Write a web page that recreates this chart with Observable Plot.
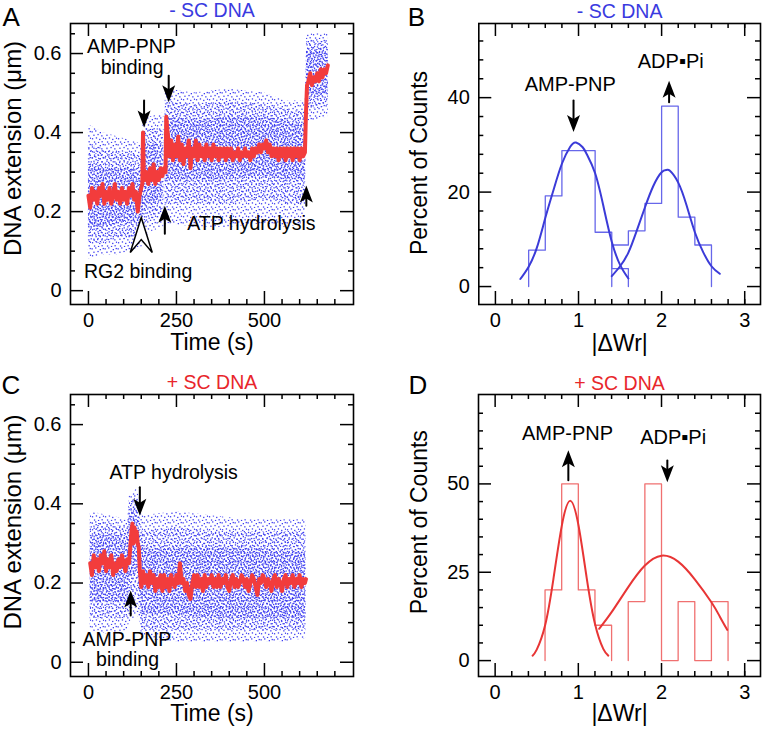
<!DOCTYPE html>
<html><head><meta charset="utf-8">
<script src="https://cdn.jsdelivr.net/npm/d3@7"></script>
<script src="https://cdn.jsdelivr.net/npm/@observablehq/plot@0.6"></script>
<style>
body{margin:0;background:#fff;}
#fig{position:relative;width:762px;height:730px;overflow:hidden;font-family:"Liberation Sans",Arial,sans-serif;}
</style></head><body>
<svg width="0" height="0" style="position:absolute">
<defs>
<pattern id="cloud1" width="13" height="13" patternUnits="userSpaceOnUse">
<g fill="#3c3cf0">
<rect x="0.5" y="1.2" width="1.3" height="1.3"/><rect x="4.1" y="0.3" width="1.3" height="1.3"/>
<rect x="8.7" y="2.0" width="1.3" height="1.3"/><rect x="11.6" y="0.9" width="1.3" height="1.3"/>
<rect x="2.3" y="4.6" width="1.3" height="1.3"/><rect x="6.4" y="3.9" width="1.3" height="1.3"/>
<rect x="10.2" y="5.2" width="1.3" height="1.3"/><rect x="0.9" y="8.1" width="1.3" height="1.3"/>
<rect x="4.8" y="7.3" width="1.3" height="1.3"/><rect x="8.1" y="8.8" width="1.3" height="1.3"/>
<rect x="11.9" y="7.6" width="1.3" height="1.3"/><rect x="2.9" y="11.4" width="1.3" height="1.3"/>
<rect x="6.9" y="11.9" width="1.3" height="1.3"/><rect x="10.5" y="11.1" width="1.3" height="1.3"/>
</g></pattern>
<pattern id="cloud2" width="11" height="11" patternUnits="userSpaceOnUse">
<g fill="#3c3cf0">
<rect x="1.7" y="0.6" width="1.3" height="1.3"/><rect x="5.9" y="1.8" width="1.3" height="1.3"/>
<rect x="9.4" y="0.2" width="1.3" height="1.3"/><rect x="0.2" y="4.1" width="1.3" height="1.3"/>
<rect x="3.8" y="3.3" width="1.3" height="1.3"/><rect x="7.5" y="5.0" width="1.3" height="1.3"/>
<rect x="10.1" y="3.7" width="1.3" height="1.3"/><rect x="2.6" y="7.2" width="1.3" height="1.3"/>
<rect x="5.5" y="8.6" width="1.3" height="1.3"/><rect x="9.0" y="7.9" width="1.3" height="1.3"/>
<rect x="0.8" y="10.0" width="1.3" height="1.3"/><rect x="7.2" y="10.3" width="1.3" height="1.3"/>
</g></pattern>
<pattern id="cloud3" width="9" height="9" patternUnits="userSpaceOnUse">
<g fill="#3c3cf0">
<rect x="0.4" y="0.9" width="1.3" height="1.3"/><rect x="3.5" y="0.1" width="1.3" height="1.3"/>
<rect x="6.8" y="1.4" width="1.3" height="1.3"/><rect x="1.9" y="3.2" width="1.3" height="1.3"/>
<rect x="5.2" y="3.8" width="1.3" height="1.3"/><rect x="8.1" y="4.6" width="1.3" height="1.3"/>
<rect x="0.7" y="6.3" width="1.3" height="1.3"/><rect x="3.9" y="6.9" width="1.3" height="1.3"/>
<rect x="6.6" y="7.4" width="1.3" height="1.3"/><rect x="2.4" y="8.6" width="1.3" height="1.3"/>
</g></pattern>
</defs></svg>
<div id="fig"></div>
<script>
// ---------- Panel A: - SC DNA time trace (red = smoothed extension) ----------
const redTimeA = [0,5,10,15,20,25,30,35,40,45,50,55,60,65,70,75,80,85,90,95,100,105,110,115,120,125,130,135,140,145,150,153,155,157,160,165,170,175,180,185,190,195,200,205,210,215,219,221,224,227,230,235,240,245,250,255,260,265,270,275,280,285,290,295,300,305,310,315,320,325,330,335,340,345,350,355,360,365,370,375,380,385,390,395,400,405,410,415,420,425,430,435,440,445,450,455,460,465,470,475,480,485,490,495,500,505,510,515,520,525,530,535,540,545,550,555,560,565,570,575,580,585,590,595,600,605,610,615,618,621,625,630,635,640,645,650,655,660,665,670,675,680];
const redExtA  = [0.24,0.21,0.26,0.23,0.25,0.22,0.26,0.24,0.27,0.22,0.25,0.23,0.26,0.22,0.24,0.27,0.23,0.25,0.22,0.26,0.23,0.25,0.22,0.26,0.24,0.27,0.23,0.25,0.20,0.24,0.26,0.27,0.40,0.31,0.28,0.30,0.27,0.31,0.28,0.32,0.27,0.30,0.28,0.31,0.29,0.31,0.30,0.44,0.41,0.38,0.34,0.38,0.33,0.37,0.34,0.39,0.33,0.37,0.32,0.36,0.34,0.38,0.31,0.36,0.34,0.38,0.33,0.37,0.34,0.36,0.33,0.37,0.34,0.36,0.33,0.37,0.34,0.36,0.33,0.36,0.34,0.36,0.33,0.36,0.34,0.36,0.33,0.35,0.34,0.36,0.33,0.35,0.34,0.36,0.34,0.35,0.33,0.36,0.34,0.36,0.35,0.37,0.35,0.37,0.36,0.38,0.35,0.37,0.34,0.36,0.34,0.36,0.33,0.36,0.34,0.36,0.33,0.36,0.34,0.36,0.33,0.36,0.34,0.36,0.33,0.36,0.34,0.35,0.45,0.52,0.53,0.55,0.52,0.54,0.53,0.55,0.53,0.56,0.54,0.56,0.55,0.57];
// blue raw-data cloud: sparse outer, medium, dense core bands
const cloudTimeA = [0,40,80,120,152,156,180,214,218,224,300,400,500,560,616,620,650,682];
const cloudSegA  = [1,1,1,1,1,1,1,1,2,2,2,2,2,2,2,2,2,2];
const outerLoA = [0.08,0.09,0.09,0.10,0.11,0.13,0.15,0.16,0.16,0.17,0.16,0.16,0.17,0.16,0.17,0.43,0.43,0.44];
const outerHiA = [0.42,0.40,0.39,0.38,0.37,0.44,0.44,0.45,0.50,0.51,0.50,0.51,0.50,0.48,0.48,0.65,0.65,0.65];
const midLoA   = [0.12,0.12,0.13,0.13,0.14,0.17,0.18,0.19,0.21,0.22,0.22,0.22,0.23,0.22,0.22,0.46,0.46,0.47];
const midHiA   = [0.37,0.36,0.35,0.35,0.34,0.41,0.41,0.41,0.47,0.48,0.47,0.48,0.47,0.46,0.45,0.63,0.63,0.63];
const coreLoA  = [0.16,0.16,0.17,0.17,0.17,0.21,0.22,0.23,0.27,0.28,0.28,0.28,0.29,0.28,0.28,0.49,0.49,0.50];
const coreHiA  = [0.32,0.31,0.31,0.31,0.30,0.37,0.37,0.37,0.43,0.44,0.43,0.44,0.44,0.43,0.42,0.61,0.61,0.61];
const arrowsA = [{x:158, tail:0.481, tip:0.413}, {x:228, tail:0.544, tip:0.477},
                 {x:217, tail:0.144, tip:0.215}, {x:619, tail:0.215, tip:0.266}];
const openArrowA = [{x:150, tip:0.185}];
const notesA = [{x:122, y:0.602, text:"AMP-PNP"}, {x:124, y:0.549, text:"binding"},
                {x:463, y:0.154, text:"ATP hydrolysis"}, {x:141, y:0.033, text:"RG2 binding"}];

// ---------- Panel C: + SC DNA time trace ----------
const redTimeC = [5,10,15,20,25,30,35,40,45,50,55,60,65,70,75,80,85,90,95,100,105,110,115,118,122,125,128,131,134,137,140,143,146,150,155,160,165,170,175,180,185,190,195,200,205,210,215,220,225,230,235,240,245,250,255,260,265,270,275,280,285,290,295,300,305,310,315,320,325,330,335,340,345,350,355,360,365,370,375,380,385,390,395,400,405,410,415,420,425,430,435,440,445,450,455,460,465,470,475,480,485,490,495,500,505,510,515,520,525,530,535,540,545,550,555,560,565,570,575,580,585,590,595,600,605,610,615,618];
const redExtC  = [0.25,0.22,0.27,0.24,0.26,0.23,0.27,0.25,0.28,0.23,0.26,0.24,0.27,0.22,0.25,0.23,0.26,0.24,0.27,0.25,0.23,0.26,0.25,0.28,0.33,0.35,0.30,0.34,0.31,0.33,0.30,0.29,0.23,0.19,0.23,0.20,0.22,0.19,0.23,0.20,0.22,0.18,0.21,0.19,0.22,0.18,0.22,0.19,0.21,0.18,0.22,0.20,0.19,0.22,0.20,0.25,0.20,0.21,0.18,0.20,0.17,0.16,0.20,0.22,0.19,0.22,0.19,0.21,0.18,0.22,0.19,0.21,0.20,0.22,0.19,0.21,0.19,0.22,0.19,0.21,0.20,0.22,0.19,0.18,0.21,0.22,0.19,0.21,0.19,0.20,0.22,0.21,0.19,0.21,0.18,0.20,0.22,0.21,0.19,0.17,0.21,0.20,0.22,0.21,0.19,0.21,0.20,0.18,0.21,0.22,0.19,0.21,0.20,0.18,0.21,0.22,0.19,0.21,0.20,0.22,0.19,0.21,0.20,0.22,0.19,0.21,0.20,0.21];
const cloudTimeC = [5,60,112,116,140,146,152,250,350,450,550,618];
const outerLoC = [0.08,0.07,0.08,0.10,0.12,0.10,0.06,0.05,0.05,0.05,0.05,0.06];
const outerHiC = [0.38,0.37,0.36,0.42,0.44,0.40,0.37,0.38,0.37,0.36,0.36,0.36];
const midLoC   = [0.11,0.11,0.11,0.15,0.17,0.13,0.08,0.08,0.08,0.08,0.08,0.08];
const midHiC   = [0.35,0.35,0.34,0.40,0.42,0.37,0.33,0.34,0.33,0.33,0.33,0.33];
const coreLoC  = [0.15,0.15,0.15,0.21,0.23,0.17,0.12,0.12,0.11,0.11,0.11,0.11];
const coreHiC  = [0.32,0.32,0.32,0.38,0.39,0.32,0.29,0.29,0.29,0.29,0.28,0.28];
const arrowsC = [{x:146, tail:0.442, tip:0.370}, {x:120, tail:0.118, tip:0.181}];
const notesC = [{x:242, y:0.463, text:"ATP hydrolysis"}, {x:109, y:0.042, text:"AMP-PNP"}, {x:111, y:-0.010, text:"binding"}];

// ---------- Panel B: - SC DNA histogram ----------
const binStartB1 = [0.4,0.6,0.8,1.0,1.2,1.4];
const pctB1      = [7.7,19.2,28.8,28.8,11.5,3.8];
const binStartB2 = [1.4,1.6,1.8,2.0,2.2,2.4];
const pctB2      = [8.8,11.8,17.6,38.2,14.7,8.8];
const fitXB1 = [0.3,0.4,0.5,0.6,0.7,0.8,0.9,0.97,1.05,1.1,1.2,1.3,1.4,1.5,1.6];
const fitYB1 = [1.6,4.2,8.3,14.5,20.5,26.0,29.6,30.5,29.5,28.0,24.0,17.0,9.5,4.6,1.7];
const fitXB2 = [1.4,1.5,1.6,1.7,1.8,1.9,2.0,2.06,2.1,2.2,2.3,2.4,2.5,2.6,2.7];
const fitYB2 = [2.2,4.3,7.2,11.8,16.8,21.3,24.2,24.7,24.5,22.0,17.2,11.5,7.3,4.3,2.7];
const arrowsB = [{x:0.94, tail:39.4, tip:32.7}, {x:2.09, tail:39.0, tip:43.6}];
const notesB = [{x:0.90, y:41.5, text:"AMP-PNP"}, {x:2.11, y:46.3, text:"ADP\u25AAPi"}];

// ---------- Panel D: + SC DNA histogram ----------
const binStartD1 = [0.6,0.8,1.0,1.2];
const pctD1      = [20,50,20,10];
const binStartD2 = [1.6,1.8,2.0,2.2,2.4,2.6];
const pctD2      = [16.7,50,0,16.7,0,16.7];
const fitXD1 = [0.45,0.5,0.6,0.7,0.8,0.9,1.0,1.1,1.2,1.3,1.36];
const fitYD1 = [1.4,3.1,9.9,23,38,45.2,38.5,23.5,10.4,3.3,1.4];
const fitXD2 = [1.25,1.4,1.6,1.8,2.0,2.2,2.4,2.6,2.7,2.79];
const fitYD2 = [9.0,13.7,20.8,26.9,29.7,28.0,23.0,16.5,12.5,8.7];
const arrowsD = [{x:0.88, tail:51.0, tip:59.5}, {x:2.07, tail:56.6, tip:50.5}];
const notesD = [{x:0.87, y:62.3, text:"AMP-PNP"}, {x:2.14, y:61.4, text:"ADP\u25AAPi"}];

// ---------- ticks ----------
const timeTicks = [0,250,500];
const timeMinor = [50,100,150,200,300,350,400,450,550,600,650,700];
const extTicks = [0,0.2,0.4,0.6];
const extLabels = ["0","0.2","0.4","0.6"];
const extMinor = [0.05,0.1,0.15,0.25,0.3,0.35,0.45,0.5,0.55,0.65];
const wrTicks = [0,1,2,3];
const wrMinor = [0.2,0.4,0.6,0.8,1.2,1.4,1.6,1.8,2.2,2.4,2.6,2.8,3.0];
const pctTicksB = [0,20,40];
const pctMinorB = [4,8,12,16,24,28,32,36,44,48,52];
const pctTicksD = [0,25,50];
const pctMinorD = [5,10,15,20,30,35,40,45,55,60,65,70];

const BLUE = "#3a3ae0", RED = "#e8262b";
const FONT = "Liberation Sans, Arial, Helvetica, sans-serif";

const headSym = {draw(c){ c.moveTo(0,0); c.lineTo(6.5,17); c.lineTo(0,13); c.lineTo(-6.5,17); c.closePath(); }};
const openSym = {draw(c){ c.moveTo(0,0); c.lineTo(11,35); c.lineTo(0,22); c.lineTo(-11,35); c.closePath(); }};

function stepPoints(starts, vals, w){
  const pts = [{x: starts[0], y: 0}];
  starts.forEach((s,i)=>pts.push({x:s, y:vals[i]}));
  pts.push({x: starts[starts.length-1] + w, y: 0});
  return pts;
}

function frameMarks(o){
  const fw = o.W - o.ml - o.mr, fh = o.H - o.mt - o.mb, L = 13, S = 5, sw = 1.5;
  return [
    Plot.ruleX(o.xMaj, {x:d=>d, insetTop: fh-L, strokeWidth: sw}),
    Plot.ruleX(o.xMaj, {x:d=>d, insetBottom: fh-L, strokeWidth: sw}),
    Plot.ruleX(o.xMin, {x:d=>d, insetTop: fh-S, strokeWidth: sw}),
    Plot.ruleX(o.xMin, {x:d=>d, insetBottom: fh-S, strokeWidth: sw}),
    Plot.ruleY(o.yMaj, {y:d=>d, insetRight: fw-L, strokeWidth: sw}),
    Plot.ruleY(o.yMaj, {y:d=>d, insetLeft: fw-L, strokeWidth: sw}),
    Plot.ruleY(o.yMin, {y:d=>d, insetRight: fw-S, strokeWidth: sw}),
    Plot.ruleY(o.yMin, {y:d=>d, insetLeft: fw-S, strokeWidth: sw}),
    Plot.frame({stroke:"black", strokeWidth: 1.6}),
    Plot.axisX({ticks: o.xMaj, tickSize: 0, tickPadding: 8, fontSize: 20, label: null, tickFormat: o.xFmt}),
    Plot.axisY({ticks: o.yMaj, tickSize: 0, tickPadding: 9, fontSize: 20, label: null, tickFormat: o.yFmt}),
    Plot.text([o.xLabel], {frameAnchor:"bottom", dy: o.xLabelDy, lineAnchor:"middle", textAnchor:"middle", fontSize: 23}),
    Plot.text([o.yLabel], {frameAnchor:"left", rotate:-90, dx: o.yLabelDx, dy: o.yLabelDy, lineAnchor:"middle", textAnchor:"middle", fontSize: o.yLabelSize}),
    Plot.text([o.title], {frameAnchor:"top", dy: o.titleDy, lineAnchor:"middle", textAnchor:"middle", fontSize: 19.5, fill: o.titleColor}),
    Plot.text([o.letter], {frameAnchor:"top-left", dx: o.letterDx, dy: o.letterDy, lineAnchor:"middle", textAnchor:"start", fontSize: 26})
  ];
}

function arrowMarks(arrows){
  return [
    Plot.arrow(arrows, {x1:"x", y1:"tail", x2:"x", y2:"tip", headLength:0, insetEnd: 12, strokeWidth: 2, stroke:"black"}),
    Plot.dot(arrows, {x:"x", y:"tip", symbol: headSym, r: 5, fill:"black", stroke:"none", rotate: d => d.tip > d.tail ? 0 : 180})
  ];
}

function cloudMarks(cloud, z){
  const opt = z ? {z: "seg"} : {};
  return [
    Plot.areaY(cloud, {x:"t", y1:"olo", y2:"ohi", ...opt, fill:"url(#cloud1)"}),
    Plot.areaY(cloud, {x:"t", y1:"mlo", y2:"mhi", ...opt, fill:"url(#cloud2)"}),
    Plot.areaY(cloud, {x:"t", y1:"clo", y2:"chi", ...opt, fill:"url(#cloud3)"})
  ];
}

function mount(el, left, top){
  el.style.position = "absolute"; el.style.left = left+"px"; el.style.top = top+"px";
  document.getElementById("fig").appendChild(el);
}

const style = {fontFamily: FONT, fontSize: "20px", color: "black", background: "transparent", overflow: "visible"};

// ----- Panel A -----
{
  const o = {W:381, H:365, ml:70, mr:28, mt:23, mb:61,
    xMaj: timeTicks, xMin: timeMinor, yMaj: extTicks, yMin: extMinor,
    xFmt: d=>String(d), yFmt: d=>extLabels[extTicks.indexOf(d)],
    xLabel:"Time (s)", xLabelDy: 38, yLabel:"DNA extension (\u03BCm)", yLabelSize: 24, yLabelDx:-57, yLabelDy:-15.5,
    title:"- SC DNA", titleColor: BLUE, titleDy: -12.7, letter:"A", letterDx:-68, letterDy: -6.3};
  const cloud = cloudTimeA.map((t,i)=>({t, seg: cloudSegA[i], olo: outerLoA[i], ohi: outerHiA[i], mlo: midLoA[i], mhi: midHiA[i], clo: coreLoA[i], chi: coreHiA[i]}));
  const red = redTimeA.map((t,i)=>({t, v: redExtA[i]}));
  const p = Plot.plot({width:o.W, height:o.H, marginLeft:o.ml, marginRight:o.mr, marginTop:o.mt, marginBottom:o.mb, style,
    x:{domain:[-51,753]}, y:{domain:[-0.035,0.676]},
    marks:[
      ...cloudMarks(cloud, true),
      Plot.line(red, {x:"t", y:"v", stroke:"#f23c3c", strokeWidth: 4, strokeLinejoin:"round"}),
      ...arrowMarks(arrowsA),
      Plot.dot(openArrowA, {x:"x", y:"tip", symbol: openSym, r:5, fill:"white", stroke:"black", strokeWidth:1.5}),
      Plot.text(notesA, {x:"x", y:"y", text:"text", fontSize: 19.5, lineAnchor:"bottom", textAnchor:"middle"}),
      ...frameMarks(o)
    ]});
  mount(p, 0, 0);
}
// ----- Panel B -----
{
  const o = {W:381, H:365, ml:97.3, mr:2, mt:23, mb:61,
    xMaj: wrTicks, xMin: wrMinor, yMaj: pctTicksB, yMin: pctMinorB,
    xFmt: d=>String(d), yFmt: d=>String(d),
    xLabel:"|\u0394Wr|", xLabelDy: 39, yLabel:"Percent of Counts", yLabelSize: 23, yLabelDx:-59, yLabelDy:-1,
    title:"- SC DNA", titleColor: BLUE, titleDy: -11.9, letter:"B", letterDx:-71, letterDy: -6.3};
  const fit1 = fitXB1.map((x,i)=>({x, y: fitYB1[i]}));
  const fit2 = fitXB2.map((x,i)=>({x, y: fitYB2[i]}));
  const p = Plot.plot({width:o.W, height:o.H, marginLeft:o.ml, marginRight:o.mr, marginTop:o.mt, marginBottom:o.mb, style,
    x:{domain:[-0.2,3.19]}, y:{domain:[-3.8,55.7]},
    marks:[
      Plot.line(stepPoints(binStartB1, pctB1, 0.2), {x:"x", y:"y", curve:"step-after", stroke:"#6767ea", strokeWidth:1.3}),
      Plot.line(stepPoints(binStartB2, pctB2, 0.2), {x:"x", y:"y", curve:"step-after", stroke:"#6767ea", strokeWidth:1.3}),
      Plot.line(fit1, {x:"x", y:"y", curve:"natural", stroke:"#3b3bd8", strokeWidth:2}),
      Plot.line(fit2, {x:"x", y:"y", curve:"natural", stroke:"#3b3bd8", strokeWidth:2}),
      ...arrowMarks(arrowsB),
      Plot.text(notesB, {x:"x", y:"y", text:"text", fontSize: 20, lineAnchor:"bottom", textAnchor:"middle"}),
      ...frameMarks(o)
    ]});
  mount(p, 381, 0);
}
// ----- Panel C -----
{
  const o = {W:381, H:365, ml:70, mr:28, mt:29, mb:54,
    xMaj: timeTicks, xMin: timeMinor, yMaj: extTicks, yMin: extMinor,
    xFmt: d=>String(d), yFmt: d=>extLabels[extTicks.indexOf(d)],
    xLabel:"Time (s)", xLabelDy: 37, yLabel:"DNA extension (\u03BCm)", yLabelSize: 24, yLabelDx:-57, yLabelDy:-13.5,
    title:"+ SC DNA", titleColor: RED, titleDy: -12.2, letter:"C", letterDx:-69, letterDy: -9.3};
  const cloud = cloudTimeC.map((t,i)=>({t, olo: outerLoC[i], ohi: outerHiC[i], mlo: midLoC[i], mhi: midHiC[i], clo: coreLoC[i], chi: coreHiC[i]}));
  const red = redTimeC.map((t,i)=>({t, v: redExtC[i]}));
  const p = Plot.plot({width:o.W, height:o.H, marginLeft:o.ml, marginRight:o.mr, marginTop:o.mt, marginBottom:o.mb, style,
    x:{domain:[-51,753]}, y:{domain:[-0.036,0.676]},
    marks:[
      ...cloudMarks(cloud, false),
      Plot.line(red, {x:"t", y:"v", stroke:"#f23c3c", strokeWidth: 4, strokeLinejoin:"round"}),
      ...arrowMarks(arrowsC),
      Plot.text(notesC, {x:"x", y:"y", text:"text", fontSize: 19.5, lineAnchor:"bottom", textAnchor:"middle"}),
      ...frameMarks(o)
    ]});
  mount(p, 0, 365);
}
// ----- Panel D -----
{
  const o = {W:381, H:365, ml:97, mr:2, mt:29, mb:54,
    xMaj: wrTicks, xMin: wrMinor, yMaj: pctTicksD, yMin: pctMinorD,
    xFmt: d=>String(d), yFmt: d=>String(d),
    xLabel:"|\u0394Wr|", xLabelDy: 37.5, yLabel:"Percent of Counts", yLabelSize: 23, yLabelDx:-59, yLabelDy:-13.3,
    title:"+ SC DNA", titleColor: RED, titleDy: -10.9, letter:"D", letterDx:-70, letterDy: -9.3};
  const fit1 = fitXD1.map((x,i)=>({x, y: fitYD1[i]}));
  const fit2 = fitXD2.map((x,i)=>({x, y: fitYD2[i]}));
  const p = Plot.plot({width:o.W, height:o.H, marginLeft:o.ml, marginRight:o.mr, marginTop:o.mt, marginBottom:o.mb, style,
    x:{domain:[-0.2,3.19]}, y:{domain:[-4.5,75.3]},
    marks:[
      Plot.line(stepPoints(binStartD1, pctD1, 0.2), {x:"x", y:"y", curve:"step-after", stroke:"#f07070", strokeWidth:1.3}),
      Plot.line(stepPoints(binStartD2, pctD2, 0.2), {x:"x", y:"y", curve:"step-after", stroke:"#f07070", strokeWidth:1.3}),
      Plot.line(fit1, {x:"x", y:"y", curve:"natural", stroke:"#e83535", strokeWidth:2}),
      Plot.line(fit2, {x:"x", y:"y", curve:"natural", stroke:"#e83535", strokeWidth:2}),
      ...arrowMarks(arrowsD),
      Plot.text(notesD, {x:"x", y:"y", text:"text", fontSize: 20, lineAnchor:"bottom", textAnchor:"middle"}),
      ...frameMarks(o)
    ]});
  mount(p, 381, 365);
}
</script>
</body></html>
